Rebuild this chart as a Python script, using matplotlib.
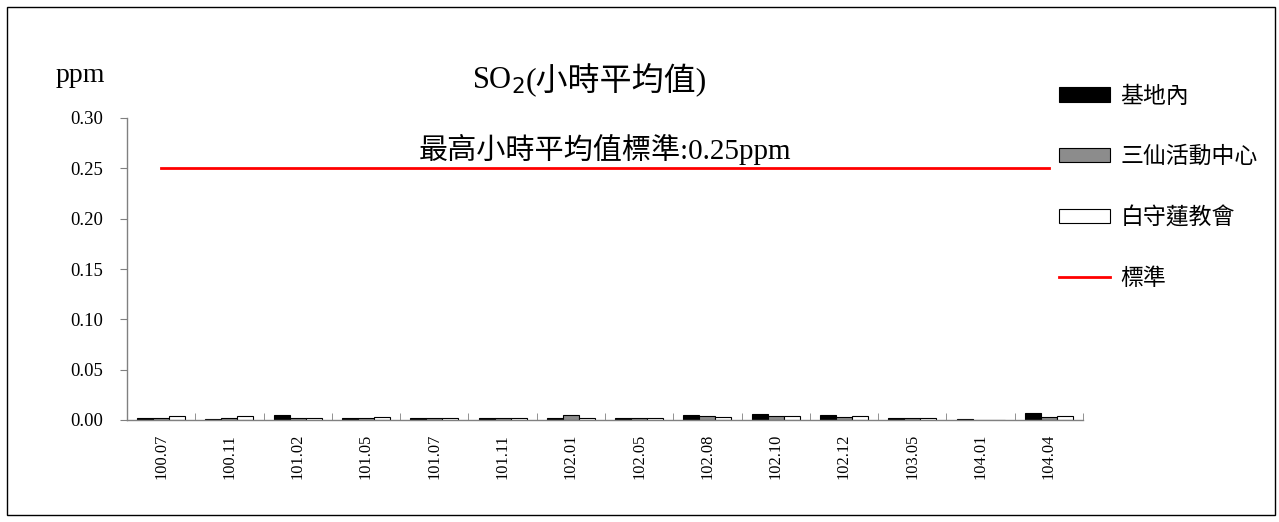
import matplotlib
matplotlib.use("Agg")
import matplotlib.pyplot as plt
import numpy as np
from matplotlib.patches import Rectangle, Patch
from matplotlib.lines import Line2D

plt.rcParams['font.family'] = ['Liberation Serif', 'Noto Sans CJK TC', 'DejaVu Sans']

categories = ["100.07", "100.11", "101.02", "101.05", "101.07", "101.11", "102.01",
              "102.05", "102.08", "102.10", "102.12", "103.05", "104.01", "104.04"]
base_inside = [0.002, 0.001, 0.005, 0.002, 0.002, 0.002, 0.002, 0.002, 0.005, 0.006, 0.005, 0.002, 0.001, 0.007]
sanxian = [0.002, 0.002, 0.002, 0.002, 0.002, 0.002, 0.005, 0.002, 0.004, 0.004, 0.003, 0.002, 0.0, 0.003]
baishoulian = [0.004, 0.004, 0.002, 0.003, 0.002, 0.002, 0.002, 0.002, 0.003, 0.004, 0.004, 0.002, 0.0, 0.004]
standard_value = 0.25
series_names = ["基地內", "三仙活動中心", "白守蓮教會", "標準"]
yticks = [0.00, 0.05, 0.10, 0.15, 0.20, 0.25, 0.30]

W, H = 1279, 522
fig = plt.figure(figsize=(W / 100, H / 100), dpi=100)
ax = fig.add_axes([127 / W, 1 - 420 / H, (1083 - 127) / W, (420 - 118) / H])

x = np.arange(len(categories))
bw = 0.235
colors = ["#000000", "#8c8c8c", "#ffffff"]
for i, (vals, c) in enumerate(zip([base_inside, sanxian, baishoulian], colors)):
    ax.bar(x + (i - 1) * bw, vals, width=bw, color=c, edgecolor="black", linewidth=0.8, zorder=2)

ax.plot(x, [standard_value] * len(x), color="#ff0000", linewidth=2, zorder=3)

ax.set_xlim(-0.5, len(categories) - 0.5)
ax.set_ylim(0, 0.30)
ax.set_yticks(yticks)
ax.set_yticklabels([f"{v:.2f}" for v in yticks], fontsize=13.5)
ax.set_xticks(x)
ax.set_xticklabels(categories, rotation=90, fontsize=11.8)
ax.tick_params(axis='x', which='major', length=0, pad=10)
ax.set_xticks(np.arange(0.5, len(categories) - 0.5 + 0.01, 1.0), minor=True)
ax.tick_params(axis='x', which='minor', length=5, direction='in', color='#808080')
ax.tick_params(axis='y', length=5, direction='out', color='#808080', pad=12)

for s in ['top', 'right']:
    ax.spines[s].set_visible(False)
for s in ['left', 'bottom']:
    ax.spines[s].set_color('#808080')
    ax.spines[s].set_linewidth(1)

fig.text(80 / W, 1 - 76 / H, "ppm", fontsize=20, ha='center', va='center')
t1 = fig.text(472 / W, 1 - 89 / H, "SO$_2$", fontsize=22, ha='left', va='baseline')
t2 = fig.text(0, 0, "(小時平均值)", fontsize=23, ha='left', va='baseline')
fig.canvas.draw()
bb = t1.get_window_extent()
t2.set_position(((bb.x1 + 1) / W, 1 - 89 / H))
ax.text(6.5, 0.2685, "最高小時平均值標準:0.25ppm", fontsize=21, ha='center', va='center')

handles = [Patch(facecolor=colors[0], edgecolor='black', linewidth=0.8),
           Patch(facecolor=colors[1], edgecolor='black', linewidth=0.8),
           Patch(facecolor=colors[2], edgecolor='black', linewidth=0.8),
           Line2D([0], [0], color='#ff0000', linewidth=2)]
fig.legend(handles, series_names, loc='upper left', bbox_to_anchor=(1054 / W, 1 - 82 / H),
           frameon=False, fontsize=16.5, handlelength=2.25, handleheight=0.6,
           labelspacing=1.7, handletextpad=0.45, borderaxespad=0, borderpad=0.2)

fig.patches.append(Rectangle((7 / W, 7 / H), (1275 - 7) / W, (515 - 7) / H,
                             transform=fig.transFigure, fill=False, edgecolor='black', linewidth=1))

fig.savefig("out.png", dpi=100)
